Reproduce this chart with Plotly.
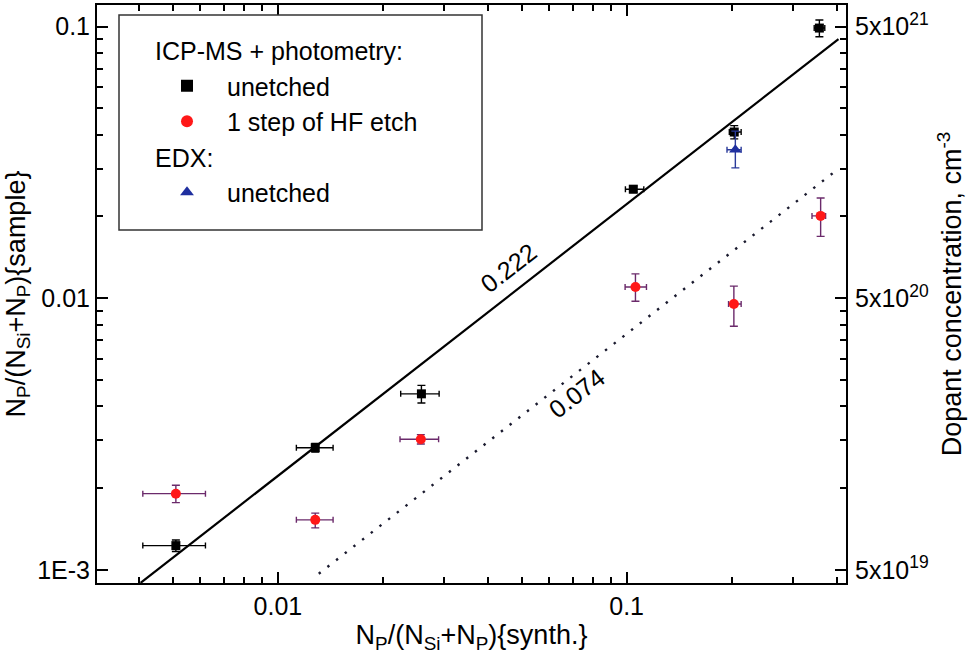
import math
import plotly.graph_objects as go

# ---- data ----
# ICP-MS + photometry, unetched
unetched_x = [0.0051, 0.0128, 0.0258, 0.1045, 0.2035, 0.357]
unetched_y = [0.00123, 0.00282, 0.00445, 0.0252, 0.0409, 0.0987]
unetched_xerr_plus = [0.0011, 0.0016, 0.0032, 0.0075, 0.0095, 0.013]
unetched_xerr_minus = [0.0010, 0.0015, 0.0033, 0.0053, 0.0065, 0.012]
unetched_yerr = [0.00006, 0.00010, 0.00033, 0.0007, 0.0023, 0.0070]

# ICP-MS + photometry, 1 step of HF etch
hf_x = [0.0051, 0.0128, 0.0257, 0.106, 0.203, 0.360]
hf_y = [0.00191, 0.00153, 0.00303, 0.0110, 0.00953, 0.0201]
hf_xerr_plus = [0.0011, 0.0016, 0.0032, 0.008, 0.010, 0.012]
hf_xerr_minus = [0.0010, 0.0015, 0.0033, 0.007, 0.007, 0.020]
hf_yerr_plus = [0.00014, 0.00009, 0.00012, 0.0013, 0.00155, 0.0033]
hf_yerr_minus = [0.00014, 0.00010, 0.00012, 0.00125, 0.00164, 0.0032]

# EDX, unetched
edx_x = [0.205]
edx_y = [0.0352]
edx_xerr_plus = [0.008]
edx_xerr_minus = [0.011]
edx_yerr_plus = [0.006]
edx_yerr_minus = [0.005]

# fitted proportional lines y = k * x
fit_slope_solid = 0.222
fit_x_solid = [0.00404, 0.405]
fit_slope_dot = 0.074
fit_x_dot = [0.0131, 0.39]

# axes
x_range = [0.00303, 0.4256]
y_range = [0.000896, 0.120]
conc_factor = 5e22  # N_P fraction -> dopant concentration, cm^-3
x_tickvals = [0.01, 0.1]
x_ticktext = ["0.01", "0.1"]
y_tickvals = [0.001, 0.01, 0.1]
y_ticktext = ["1E-3", "0.01", "0.1"]
y2_tickvals = [5e19, 5e20, 5e21]
y2_ticktext = ["5x10<sup>19</sup>", "5x10<sup>20</sup>", "5x10<sup>21</sup>"]

FONT = "Arial, Liberation Sans, Helvetica, sans-serif"

x_minor = [m * 10 ** e for e in range(-3, 0) for m in range(2, 10)]
y_minor = [m * 10 ** e for e in range(-4, 0) for m in range(2, 10)]

fig = go.Figure()

fig.add_trace(go.Scatter(
    x=[fit_x_solid[0], fit_x_solid[1]],
    y=[fit_slope_solid * v for v in fit_x_solid],
    mode="lines", line=dict(color="black", width=2.2), showlegend=False,
    hoverinfo="skip"))
fig.add_trace(go.Scatter(
    x=[fit_x_dot[0], fit_x_dot[1]],
    y=[fit_slope_dot * v for v in fit_x_dot],
    mode="lines", line=dict(color="#1a1a2e", width=2.4, dash="2.4px,8.6px"),
    showlegend=False, hoverinfo="skip"))

LEG_FONT = 25

fig.add_trace(go.Scatter(
    x=unetched_x, y=unetched_y, mode="markers", name="unetched",
    legendgroup="icp", legendgrouptitle=dict(text="ICP-MS + photometry:",
                                             font=dict(size=LEG_FONT, color="black")),
    marker=dict(symbol="square", size=9, color="black"),
    error_x=dict(type="data", array=unetched_xerr_plus,
                 arrayminus=unetched_xerr_minus, color="black",
                 thickness=1.4, width=3),
    error_y=dict(type="data", array=unetched_yerr, color="black",
                 thickness=1.4, width=4)))

fig.add_trace(go.Scatter(
    x=hf_x, y=hf_y, mode="markers", name="1 step of HF etch",
    legendgroup="icp",
    marker=dict(symbol="circle", size=10, color="#ff1818"),
    error_x=dict(type="data", array=hf_xerr_plus, arrayminus=hf_xerr_minus,
                 color="#6b2a6b", thickness=1.4, width=3),
    error_y=dict(type="data", array=hf_yerr_plus, arrayminus=hf_yerr_minus,
                 color="#6b2a6b", thickness=1.4, width=4)))

fig.add_trace(go.Scatter(
    x=edx_x, y=edx_y, mode="markers", name="unetched",
    legendgroup="edx", legendgrouptitle=dict(text="EDX:",
                                             font=dict(size=LEG_FONT, color="black")),
    marker=dict(symbol="triangle-up", size=11, color="#1f2f9f"),
    error_x=dict(type="data", array=edx_xerr_plus, arrayminus=edx_xerr_minus,
                 color="#2a3a9a", thickness=1.4, width=3),
    error_y=dict(type="data", array=edx_yerr_plus, arrayminus=edx_yerr_minus,
                 color="#2a3a9a", thickness=1.4, width=4)))

# right axis labels (concentration) need a trace on y2
fig.add_trace(go.Scatter(
    x=[x_range[0]], y=[y_range[0] * conc_factor], yaxis="y2",
    mode="markers", marker=dict(opacity=0), showlegend=False,
    hoverinfo="skip"))

axis_common = dict(type="log", showgrid=False, zeroline=False,
                   linecolor="black", linewidth=2, ticks="inside",
                   tickcolor="black", tickwidth=1.5, ticklen=11,
                   automargin=False,
                   tickfont=dict(size=25, color="black", family=FONT))

# plot area in pixels (for placing the legend frame)
W, H = 971, 664
ML, MR, MT, MB = 97, 125, 5, 81
PW, PH = W - ML - MR, H - MT - MB

def px_x(p):
    return (p - ML) / PW

def px_y(p):
    return 1 - (p - MT) / PH

fig.update_layout(
    width=W, height=H,
    margin=dict(l=ML, r=MR, t=MT, b=MB),
    paper_bgcolor="white", plot_bgcolor="white",
    font=dict(family=FONT, color="black"),
    xaxis=dict(**axis_common,
               range=[math.log10(x_range[0]), math.log10(x_range[1])],
               tickvals=x_tickvals, ticktext=x_ticktext, mirror="ticks",
               minor=dict(tickvals=x_minor, ticks="inside", ticklen=6,
                          tickcolor="black", tickwidth=1.5),
               title=dict(text="N<sub>P</sub>/(N<sub>Si</sub>+N<sub>P</sub>){synth.}",
                          font=dict(size=27, color="black"), standoff=6)),
    yaxis=dict(**axis_common,
               range=[math.log10(y_range[0]), math.log10(y_range[1])],
               tickvals=y_tickvals, ticktext=y_ticktext, mirror="ticks",
               minor=dict(tickvals=y_minor, ticks="inside", ticklen=6,
                          tickcolor="black", tickwidth=1.5),
               title=dict(text="N<sub>P</sub>/(N<sub>Si</sub>+N<sub>P</sub>){sample}",
                          font=dict(size=27, color="black"), standoff=4)),
    yaxis2=dict(type="log", overlaying="y", side="right", showgrid=False,
                zeroline=False, showline=False, ticks="", automargin=False,
                ticklabelstandoff=8,
                range=[math.log10(y_range[0] * conc_factor),
                       math.log10(y_range[1] * conc_factor)],
                tickvals=y2_tickvals, ticktext=y2_ticktext,
                tickfont=dict(size=25, color="black", family=FONT),
                title=dict(text="Dopant concentration, cm<sup>-3</sup>",
                           font=dict(size=27, color="black"), standoff=14)),
    legend=dict(x=px_x(150), y=px_y(27.5), xanchor="left", yanchor="top",
                bgcolor="rgba(0,0,0,0)", borderwidth=0,
                font=dict(size=LEG_FONT, color="black"), tracegroupgap=0,
                traceorder="grouped", itemsizing="constant",
                indentation=-3, itemwidth=70),
    showlegend=True,
)

# legend frame
fig.add_shape(type="rect", xref="paper", yref="paper",
              x0=px_x(119), x1=px_x(482), y0=px_y(230), y1=px_y(15),
              line=dict(color="#333333", width=1.5), fillcolor="white",
              layer="above")

fig.add_annotation(x=math.log10(0.0457), y=math.log10(0.01297), xref="x", yref="y",
                   text="0.222", showarrow=False, textangle=-38,
                   font=dict(size=25, color="black"))
fig.add_annotation(x=math.log10(0.072), y=math.log10(0.0045), xref="x", yref="y",
                   text="0.074", showarrow=False, textangle=-38,
                   font=dict(size=25, color="black"))

fig.write_html("out.html",
               config={"displayModeBar": False},
               post_script="document.body.style.margin='0';"
                           "document.body.style.overflow='hidden';")
